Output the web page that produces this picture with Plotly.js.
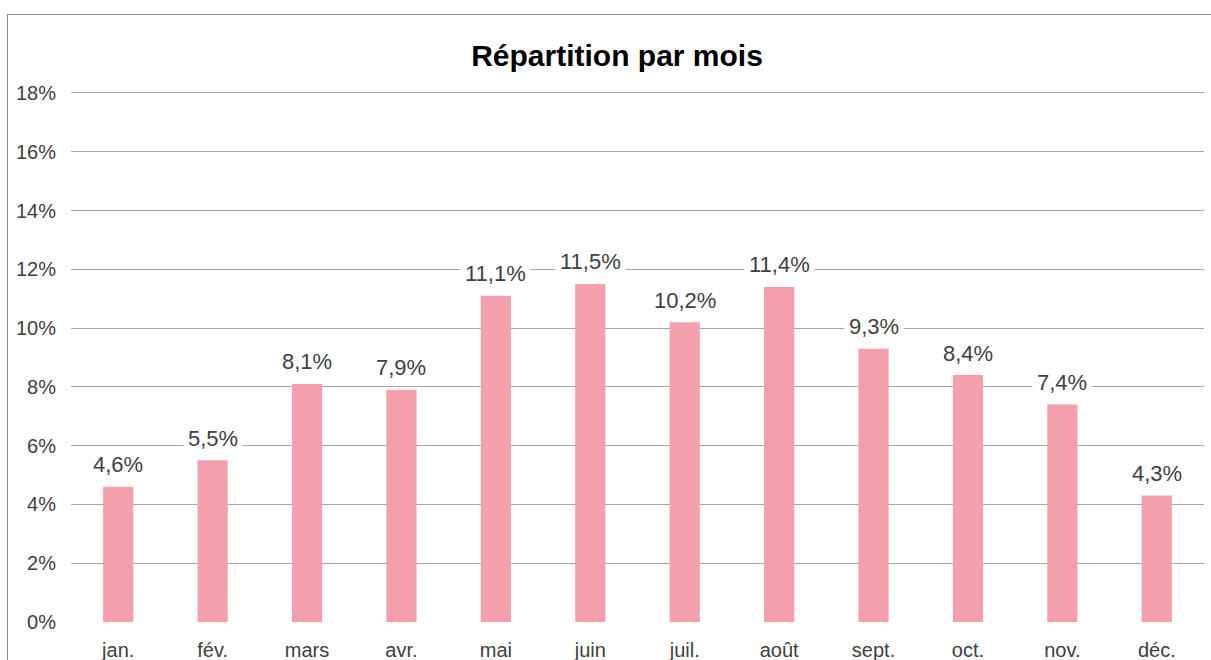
<!DOCTYPE html>
<html>
<head>
<meta charset="utf-8">
<script src="https://cdn.plot.ly/plotly-3.0.1.min.js"></script>
<style>
html,body{margin:0;padding:0;overflow:hidden;background:#fff;}
#chart{width:1211px;height:660px;}
#frame{position:absolute;left:7px;top:14px;width:1400px;height:900px;border:1px solid #8c8c8c;pointer-events:none;}
</style>
</head>
<body>
<div id="chart"></div>
<div id="frame"></div>
<script>
const months = ["jan.","fév.","mars","avr.","mai","juin","juil.","août","sept.","oct.","nov.","déc."];
const shares = [4.6,5.5,8.1,7.9,11.1,11.5,10.2,11.4,9.3,8.4,7.4,4.3];
const labels = ["4,6%","5,5%","8,1%","7,9%","11,1%","11,5%","10,2%","11,4%","9,3%","8,4%","7,4%","4,3%"];
const yTicks = [0,2,4,6,8,10,12,14,16,18];
const yTickText = ["0%","2%","4%","6%","8%","10%","12%","14%","16%","18%"];
const font = "Liberation Sans, Arial, Helvetica, sans-serif";

const trace = {
  type: "bar",
  x: months,
  y: shares,
  marker: {color: "#F3A0AC"},
  hoverinfo: "skip"
};

const annotations = months.map((m, i) => ({
  x: m, y: shares[i], xref: "x", yref: "y",
  text: labels[i], showarrow: false,
  yanchor: "middle", yshift: 22,
  bgcolor: "#ffffff", borderpad: 4,
  font: {family: font, size: 22, color: "#404040"}
}));

const layout = {
  width: 1211, height: 660,
  margin: {l: 71, r: 7, t: 90, b: 38},
  paper_bgcolor: "#ffffff", plot_bgcolor: "#ffffff",
  title: {text: "<b>Répartition par mois</b>", x: 617/1211, xref: "container", xanchor: "center",
          y: 1 - 55/660, yref: "container", yanchor: "middle",
          font: {family: font, size: 30, color: "#000000"}},
  bargap: 0.68,
  showlegend: false,
  xaxis: {
    type: "category", showgrid: false, zeroline: false, showline: false,
    ticks: "", tickfont: {family: font, size: 20, color: "#404040"},
    ticklabelstandoff: 14
  },
  yaxis: {
    range: [0, 18.1], tickvals: yTicks, ticktext: yTickText,
    showgrid: true, gridcolor: "#a6a6a6", gridwidth: 1,
    zeroline: false, showline: false, ticks: "",
    tickfont: {family: font, size: 20, color: "#404040"},
    ticklabelstandoff: 14
  },
  annotations: annotations
};

Plotly.newPlot("chart", [trace], layout, {displayModeBar: false, staticPlot: true});
</script>
</body>
</html>
